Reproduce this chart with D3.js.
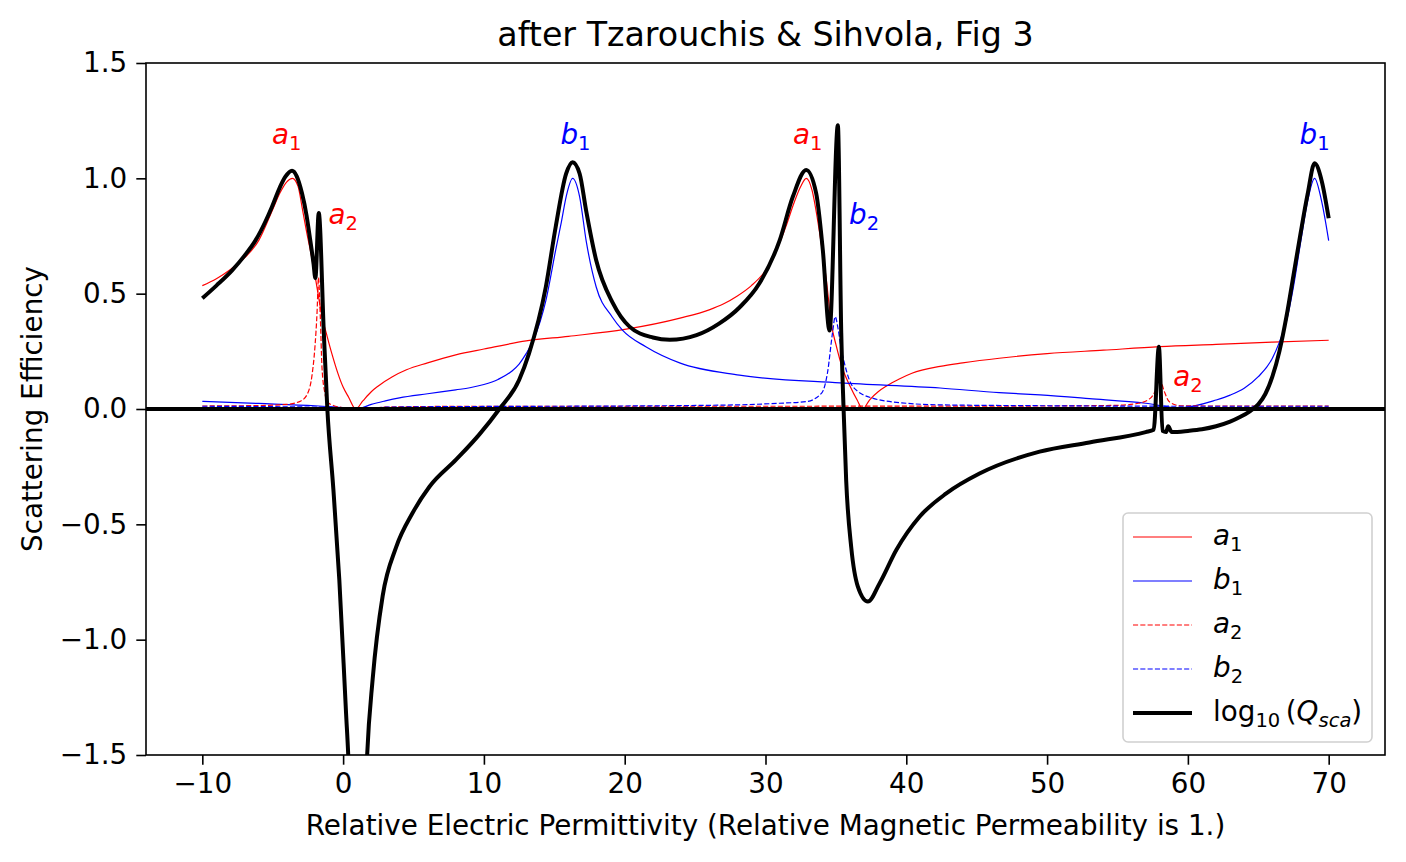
<!DOCTYPE html>
<html>
<head>
<meta charset="utf-8">
<script src="https://cdn.jsdelivr.net/npm/d3@7"></script>
<style>
  html, body { margin: 0; padding: 0; background: #fff; }
  svg { display: block; font-family: "DejaVu Sans", sans-serif; }
</style>
</head>
<body>
<svg id="chart" width="1406" height="862"></svg>
<script>
// ---------------- data ----------------
const xTicks = [-10, 0, 10, 20, 30, 40, 50, 60, 70];
const yTicks = [-1.5, -1.0, -0.5, 0.0, 0.5, 1.0, 1.5];
const yTickLabels = ["\u22121.5", "\u22121.0", "\u22120.5", "0.0", "0.5", "1.0", "1.5"];

const a1X = [-10, -9, -8, -7, -6, -5, -4.5, -4, -3.6, -3.2, -2.9, -2.6, -2.3, -2.0, -1.7, -1.5, -1.2, -0.8, -0.4, 0, 0.4, 0.9, 1.4, 2, 2.5, 3.5, 4.5, 6, 8, 10, 13, 16, 20, 24, 26, 27, 28, 29, 30, 30.5, 31, 31.5, 32, 32.5, 32.9, 33.3, 33.7, 34, 34.3, 34.7, 35, 35.5, 36, 36.5, 36.9, 37.4, 38, 38.6, 39.5, 40.4, 42.4, 44, 46.6, 50, 54, 58, 62, 66, 70];
const a1Y = [0.535, 0.565, 0.605, 0.655, 0.73, 0.865, 0.935, 0.985, 1.0, 0.965, 0.87, 0.77, 0.68, 0.58, 0.47, 0.40, 0.33, 0.24, 0.16, 0.095, 0.05, 0.0, 0.035, 0.075, 0.10, 0.14, 0.17, 0.20, 0.235, 0.26, 0.295, 0.315, 0.345, 0.395, 0.43, 0.455, 0.49, 0.535, 0.60, 0.65, 0.72, 0.80, 0.89, 0.965, 1.0, 0.95, 0.82, 0.70, 0.57, 0.36, 0.28, 0.17, 0.10, 0.04, 0.0, 0.04, 0.075, 0.10, 0.13, 0.155, 0.185, 0.20, 0.22, 0.24, 0.255, 0.27, 0.28, 0.29, 0.298];

const b1X = [-10, -6, -2, 0, 1, 2, 3, 4, 6, 8, 9, 10, 11, 12, 12.5, 13, 13.45, 14, 14.4, 15.1, 15.5, 15.84, 16.3, 16.8, 17.26, 17.97, 19.1, 19.84, 21.5, 23.9, 28.15, 35.3, 42.4, 46.6, 49.5, 53, 57, 59.4, 62, 63, 64, 65, 66, 66.5, 67, 67.5, 68, 68.5, 69.0, 69.5, 70];
const b1Y = [0.033, 0.024, 0.014, 0.006, 0.0, 0.02, 0.035, 0.048, 0.066, 0.083, 0.092, 0.106, 0.128, 0.165, 0.195, 0.24, 0.29, 0.38, 0.47, 0.69, 0.81, 0.92, 1.0, 0.92, 0.73, 0.53, 0.40, 0.342, 0.27, 0.20, 0.147, 0.113, 0.091, 0.071, 0.061, 0.045, 0.025, 0.005, 0.039, 0.06, 0.09, 0.14, 0.22, 0.29, 0.38, 0.53, 0.72, 0.90, 1.0, 0.90, 0.73];

const a2X = [-10, -6, -4, -3, -2.5, -2.2, -2.0, -1.85, -1.75, -1.62, -1.5, -1.3, -1.1, -0.7, 0, 1, 3, 10, 30, 50, 55, 56.5, 57.3, 57.7, 58.0, 58.3, 58.7, 59.5, 62, 70];
const a2Y = [0.013, 0.015, 0.02, 0.035, 0.07, 0.15, 0.27, 0.42, 0.57, 0.40, 0.18, 0.07, 0.03, 0.015, 0.006, 0.0, 0.008, 0.012, 0.012, 0.013, 0.016, 0.025, 0.045, 0.08, 0.13, 0.08, 0.03, 0.014, 0.013, 0.013];

const b2X = [-10, 0, 1, 3, 10, 20, 28, 31, 32.9, 34, 34.4, 34.76, 34.95, 35.15, 35.35, 35.6, 36.2, 37.6, 40, 42.4, 50, 60, 70];
const b2Y = [0.012, 0.006, 0.0, 0.008, 0.011, 0.013, 0.018, 0.025, 0.032, 0.07, 0.156, 0.33, 0.40, 0.35, 0.27, 0.2, 0.097, 0.047, 0.025, 0.018, 0.014, 0.012, 0.012];

const qX = [-10, -9, -7.9, -7, -6.23, -5.5, -5.05, -4.5, -4.1, -3.63, -3.3, -2.92, -2.6, -2.33, -2.1, -1.97, -1.73, -1.37, -1.12, -0.69, -0.27, 0.21, 0.37, 0.55, 1.0, 1.5, 1.70, 2.1, 2.81, 3.76, 4.94, 6.13, 8.02, 9.68, 11.1, 12.5, 13.2, 14.4, 15.1, 15.84, 16.3, 16.8, 17.26, 17.97, 19.15, 20.34, 22.0, 23.2, 25.1, 26.7, 28.15, 29.57, 31.0, 31.94, 32.89, 33.6, 34.07, 34.55, 35.14, 35.38, 35.54, 35.73, 36.09, 36.56, 37.27, 38.1, 39.3, 40.94, 42.84, 45.2, 49.47, 53, 57.0, 57.57, 57.94, 58.2, 58.45, 58.6, 58.85, 60, 61, 62, 63, 63.7, 64.4, 65, 65.5, 66, 66.5, 67, 67.5, 68, 68.5, 69.0, 69.5, 70];
const qY = [0.48, 0.535, 0.60, 0.665, 0.73, 0.815, 0.877, 0.96, 1.007, 1.033, 1.01, 0.935, 0.84, 0.73, 0.63, 0.567, 0.85, 0.33, 0.0, -0.35, -0.74, -1.32, -1.51, -1.85, -3.0, -1.85, -1.51, -1.17, -0.81, -0.60, -0.45, -0.337, -0.22, -0.11, 0.0, 0.126, 0.24, 0.53, 0.79, 1.02, 1.07, 1.02, 0.86, 0.646, 0.46, 0.357, 0.31, 0.30, 0.32, 0.37, 0.44, 0.545, 0.73, 0.92, 1.036, 0.935, 0.69, 0.34, 1.23, 0.33, 0.01, -0.31, -0.60, -0.77, -0.835, -0.756, -0.61, -0.467, -0.366, -0.28, -0.185, -0.145, -0.10, -0.09, 0.27, -0.095, -0.10, -0.075, -0.10, -0.095, -0.088, -0.075, -0.055, -0.035, -0.01, 0.02, 0.065, 0.14, 0.25, 0.40, 0.58, 0.76, 0.93, 1.065, 0.99, 0.827];

// annotation labels: [base, subscript, colour, x, y]
const annotations = [
  ["a", "1", "red", -4, 1.15],
  ["a", "2", "red", 0, 0.8],
  ["b", "1", "blue", 16.5, 1.15],
  ["a", "1", "red", 33, 1.15],
  ["b", "2", "blue", 37, 0.8],
  ["a", "2", "red", 60, 0.1],
  ["b", "1", "blue", 69, 1.15]
];

// ---------------- chart ----------------
const svg = d3.select("#chart");
const L = 146, R = 1385, T = 63, B = 755;
const FS = 27.8, SUB = 19.5;
const x = d3.scaleLinear().domain([-14, 74]).range([L, R]);
const y = d3.scaleLinear().domain([-1.5, 1.5]).range([B, T]);

svg.append("defs").append("clipPath").attr("id", "clip")
  .append("rect").attr("x", L).attr("y", T).attr("width", R - L).attr("height", B - T);

const plot = svg.append("g").attr("clip-path", "url(#clip)");

const line = d3.line().x(d => x(d[0])).y(d => y(d[1])).curve(d3.curveMonotoneX);
const zip = (xs, ys) => xs.map((v, i) => [v, ys[i]]);

const series = [
  { name: "a1", data: zip(a1X, a1Y), color: "red", w: 1.2, dash: null },
  { name: "b1", data: zip(b1X, b1Y), color: "blue", w: 1.2, dash: null },
  { name: "a2", data: zip(a2X, a2Y), color: "red", w: 1.2, dash: "5.1,2.2" },
  { name: "b2", data: zip(b2X, b2Y), color: "blue", w: 1.2, dash: "5.1,2.2" },
  { name: "Q", data: zip(qX, qY), color: "black", w: 4, dash: null }
];

series.forEach(s => {
  plot.append("path").datum(s.data)
    .attr("d", line)
    .attr("fill", "none")
    .attr("stroke", s.color)
    .attr("stroke-width", s.w)
    .attr("stroke-dasharray", s.dash)
    .attr("stroke-linejoin", "round");
});

// zero line
plot.append("line")
  .attr("x1", L).attr("x2", R).attr("y1", y(0)).attr("y2", y(0))
  .attr("stroke", "black").attr("stroke-width", 4);

// annotations
annotations.forEach(a => {
  const t = svg.append("text")
    .attr("x", x(a[3])).attr("y", y(a[4]))
    .attr("text-anchor", "middle")
    .attr("fill", a[2])
    .style("font-size", FS + "px");
  t.append("tspan").style("font-style", "italic").text(a[0]);
  t.append("tspan").attr("dy", 6).style("font-size", SUB + "px").text(a[1]);
});

// axes
const xAxis = d3.axisBottom(x).tickValues(xTicks).tickSize(9.7).tickPadding(9).tickFormat(d => d < 0 ? "\u2212" + Math.abs(d) : d);
const yAxis = d3.axisLeft(y).tickValues(yTicks).tickSize(9.7).tickPadding(9).tickFormat((d, i) => yTickLabels[i]);

const gx = svg.append("g").attr("transform", `translate(0,${B})`).call(xAxis);
const gy = svg.append("g").attr("transform", `translate(${L},0)`).call(yAxis);
[gx, gy].forEach(g => {
  g.select(".domain").remove();
  g.selectAll(".tick line").attr("stroke", "black").attr("stroke-width", 1.6);
  g.selectAll(".tick text").attr("fill", "black").style("font-size", FS + "px").style("font-family", "DejaVu Sans");
});

// frame
svg.append("rect").attr("x", L).attr("y", T).attr("width", R - L).attr("height", B - T)
  .attr("fill", "none").attr("stroke", "black").attr("stroke-width", 1.6);

// title & labels
svg.append("text").attr("x", (L + R) / 2).attr("y", 46).attr("text-anchor", "middle")
  .style("font-size", "33.3px").text("after Tzarouchis & Sihvola, Fig 3");
svg.append("text").attr("x", (L + R) / 2).attr("y", 835).attr("text-anchor", "middle")
  .style("font-size", FS + "px").text("Relative Electric Permittivity (Relative Magnetic Permeability is 1.)");
svg.append("text").attr("transform", `translate(42,${(T + B) / 2}) rotate(-90)`).attr("text-anchor", "middle")
  .style("font-size", FS + "px").text("Scattering Efficiency");

// legend
const lg = svg.append("g");
lg.append("rect").attr("x", 1123).attr("y", 513).attr("width", 249).attr("height", 229)
  .attr("rx", 5).attr("fill", "white").attr("fill-opacity", 0.8)
  .attr("stroke", "#d0d0d0").attr("stroke-width", 1.6);
const legendItems = [
  { s: series[0], base: "a", sub: "1" },
  { s: series[1], base: "b", sub: "1" },
  { s: series[2], base: "a", sub: "2" },
  { s: series[3], base: "b", sub: "2" },
  { s: series[4], base: null }
];
legendItems.forEach((it, i) => {
  const cy = 537 + i * 44;
  lg.append("line").attr("x1", 1133).attr("x2", 1192).attr("y1", cy).attr("y2", cy)
    .attr("stroke", it.s.color).attr("stroke-width", it.s.w).attr("stroke-dasharray", it.s.dash);
  const t = lg.append("text").attr("x", 1213).attr("y", cy + 8).style("font-size", FS + "px").attr("fill", "black");
  if (it.base) {
    t.append("tspan").style("font-style", "italic").text(it.base);
    t.append("tspan").attr("dy", 6).style("font-size", SUB + "px").text(it.sub);
  } else {
    t.append("tspan").text("log");
    t.append("tspan").attr("dy", 6).style("font-size", SUB + "px").text("10");
    t.append("tspan").attr("dy", -6).text("\u2009(");
    t.append("tspan").style("font-style", "italic").text("Q");
    t.append("tspan").attr("dy", 6).style("font-size", SUB + "px").style("font-style", "italic").text("sca");
    t.append("tspan").attr("dy", -6).text(")");
  }
});
</script>
</body>
</html>
